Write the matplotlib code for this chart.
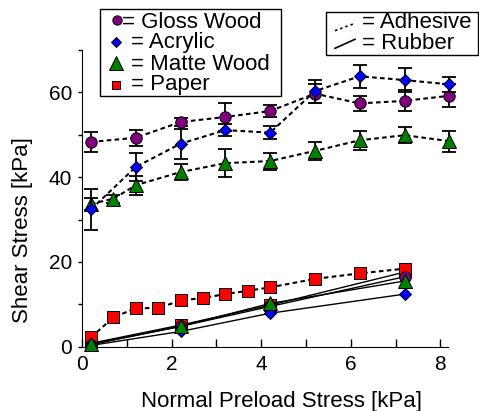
import matplotlib
matplotlib.use('Agg')
import matplotlib.pyplot as plt
from matplotlib.lines import Line2D
from matplotlib.patches import Rectangle

plt.rcParams['font.family'] = ['Liberation Sans', 'DejaVu Sans']

# ------------- data ------------- #
# adhesive (dashed) series
glossX = [0.2, 1.2, 2.2, 3.2, 4.2, 5.2, 6.2, 7.2, 8.2]
glossY = [48.3, 49.3, 53.0, 54.2, 55.6, 59.7, 57.4, 58.0, 59.2]
glossErr = [2.4, 1.9, 1.0, 3.3, 1.4, 2.3, 1.8, 2.5, 2.7]

acrylicX = [0.2, 1.2, 2.2, 3.2, 4.2, 5.2, 6.2, 7.2, 8.2]
acrylicY = [32.4, 42.4, 47.9, 51.1, 50.5, 60.3, 63.8, 62.9, 61.9]
acrylicErr = [4.9, 3.3, 3.5, 1.5, 1.6, 2.7, 2.7, 2.8, 1.8]

matteX = [0.2, 0.7, 1.2, 2.2, 3.2, 4.2, 5.2, 6.2, 7.2, 8.2]
matteY = [33.7, 34.9, 38.1, 41.2, 43.3, 43.8, 46.2, 48.7, 49.9, 48.5]
matteErr = [1.5, 1.0, 2.2, 1.9, 3.3, 2.0, 2.1, 2.2, 1.9, 2.5]

paperX = [0.2, 0.7, 1.2, 1.7, 2.2, 2.7, 3.2, 3.7, 4.2, 5.2, 6.2, 7.2]
paperY = [2.2, 6.9, 9.1, 9.1, 10.9, 11.5, 12.4, 13.2, 14.0, 16.0, 17.3, 18.4]

# rubber (solid) series
rubberX = [0.2, 2.2, 4.2, 7.2]
rubberGloss = [0.5, 4.8, 9.5, 16.5]
rubberAcrylic = [0.3, 3.6, 7.9, 12.4]
rubberPaper = [0.8, 5.1, 9.8, 17.6]
rubberMatte = [0.6, 4.8, 10.2, 15.5]

xTicks = [0, 1, 2, 3, 4, 5, 6, 7, 8]
yTicks = [0, 10, 20, 30, 40, 50, 60, 70]

# ------------- styles ------------- #
W, H = 479, 411
FS = 16
TICKFS = 15
purple = '#800080'
blue = '#0000FF'
green = '#008000'
red = '#FF0000'
dashStyle = (0, (2.2, 1.6))

glossStyle = dict(marker='o', markersize=8.2, markerfacecolor=purple)
acrylicStyle = dict(marker='D', markersize=6.5, markerfacecolor=blue)
matteStyle = dict(marker='^', markersize=10, markerfacecolor=green)
paperStyle = dict(marker='s', markersize=8.6, markerfacecolor=red)

fig = plt.figure(figsize=(W / 100, H / 100), dpi=100)
ax = fig.add_axes([82 / W, 1 - 346.7 / H, (448 - 82) / W, (346.7 - 50) / H])


def drawSeries(x, y, style, err=None, ls=dashStyle, lw=1.5, z=2):
    ax.plot(x, y, color='black', linestyle=ls, linewidth=lw, zorder=z, clip_on=False)
    if err is not None:
        ax.errorbar(x, y, yerr=err, fmt='none', ecolor='black', elinewidth=1.3,
                    capsize=5, capthick=1.3, zorder=z + 0.1, clip_on=False)
    ax.plot(x, y, linestyle='none', markeredgecolor='black', markeredgewidth=0.7,
            zorder=z + 0.2, clip_on=False, **style)


# adhesive
drawSeries(matteX, matteY, matteStyle, matteErr, z=2)
drawSeries(glossX, glossY, glossStyle, glossErr, z=3)
drawSeries(acrylicX, acrylicY, acrylicStyle, acrylicErr, z=4)
drawSeries(paperX, paperY, paperStyle, z=5)

# rubber
drawSeries(rubberX, rubberGloss, glossStyle, ls='-', lw=1.0, z=6)
drawSeries(rubberX, rubberAcrylic, acrylicStyle, ls='-', lw=1.0, z=7)
drawSeries(rubberX, rubberPaper, paperStyle, ls='-', lw=1.0, z=4.5)
drawSeries(rubberX, rubberMatte, matteStyle, ls='-', lw=1.0, z=8)

ax.set_xlim(0, 8.17)
ax.set_ylim(0, 70)
ax.spines['top'].set_visible(False)
ax.spines['right'].set_visible(False)
ax.set_facecolor('none')

ax.set_xticks(xTicks)
ax.set_xticklabels([str(t) if t % 2 == 0 else '' for t in xTicks])
ax.set_yticks(yTicks)
ax.set_yticklabels([str(t) if t % 20 == 0 else '' for t in yTicks])
ax.tick_params(axis='x', direction='in', length=5.5, width=1, labelsize=TICKFS, pad=6)
ax.tick_params(axis='y', direction='out', length=3.1, width=1, labelsize=TICKFS, pad=4)

fig.text(281.5 / W, 1 - 406.7 / H, 'Normal Preload Stress [kPa]', fontsize=FS,
         ha='center', va='baseline')
fig.text(23 / W, 1 - 230 / H, 'Shear Stress [kPa]', fontsize=FS,
         ha='center', va='center', rotation=90)

# ------------- legends drawn on a pixel overlay ------------- #
ov = fig.add_axes([0, 0, 1, 1])
ov.set_xlim(0, W)
ov.set_ylim(H, 0)
ov.axis('off')

ov.add_patch(Rectangle((100.5, 9.5), 180.5, 87, fill=False, edgecolor='black', linewidth=1))
legendRows = [
    (116.7, 20.0, dict(glossStyle, markersize=6.7), 122.3, 27.7, '= Gloss Wood'),
    (115.7, 41.7, dict(acrylicStyle, markersize=5.1), 131, 48.3, '= Acrylic'),
    (115.7, 63.5, dict(matteStyle, markersize=9.6), 131, 70, '= Matte Wood'),
    (115.7, 85.0, dict(paperStyle, markersize=6.4), 131, 90, '= Paper'),
]
for mx, my, st, tx, ty, label in legendRows:
    ov.plot([mx], [my], linestyle='none', markeredgecolor='black', markeredgewidth=0.7, **st)
    ov.text(tx, ty, label, fontsize=FS, ha='left', va='baseline')

ov.add_patch(Rectangle((326, 11.7), 152, 43.3, fill=False, edgecolor='black', linewidth=1))
ov.add_line(Line2D([335, 355], [30.7, 23.3], color='black', linewidth=1.2, linestyle=(0, (1.5, 1.8))))
ov.add_line(Line2D([335, 355], [48.3, 39.3], color='black', linewidth=1.2))
ov.text(361.7, 28.3, '= Adhesive', fontsize=FS, ha='left', va='baseline')
ov.text(361.7, 49.3, '= Rubber', fontsize=FS, ha='left', va='baseline')

fig.savefig('out.png', dpi=100)
